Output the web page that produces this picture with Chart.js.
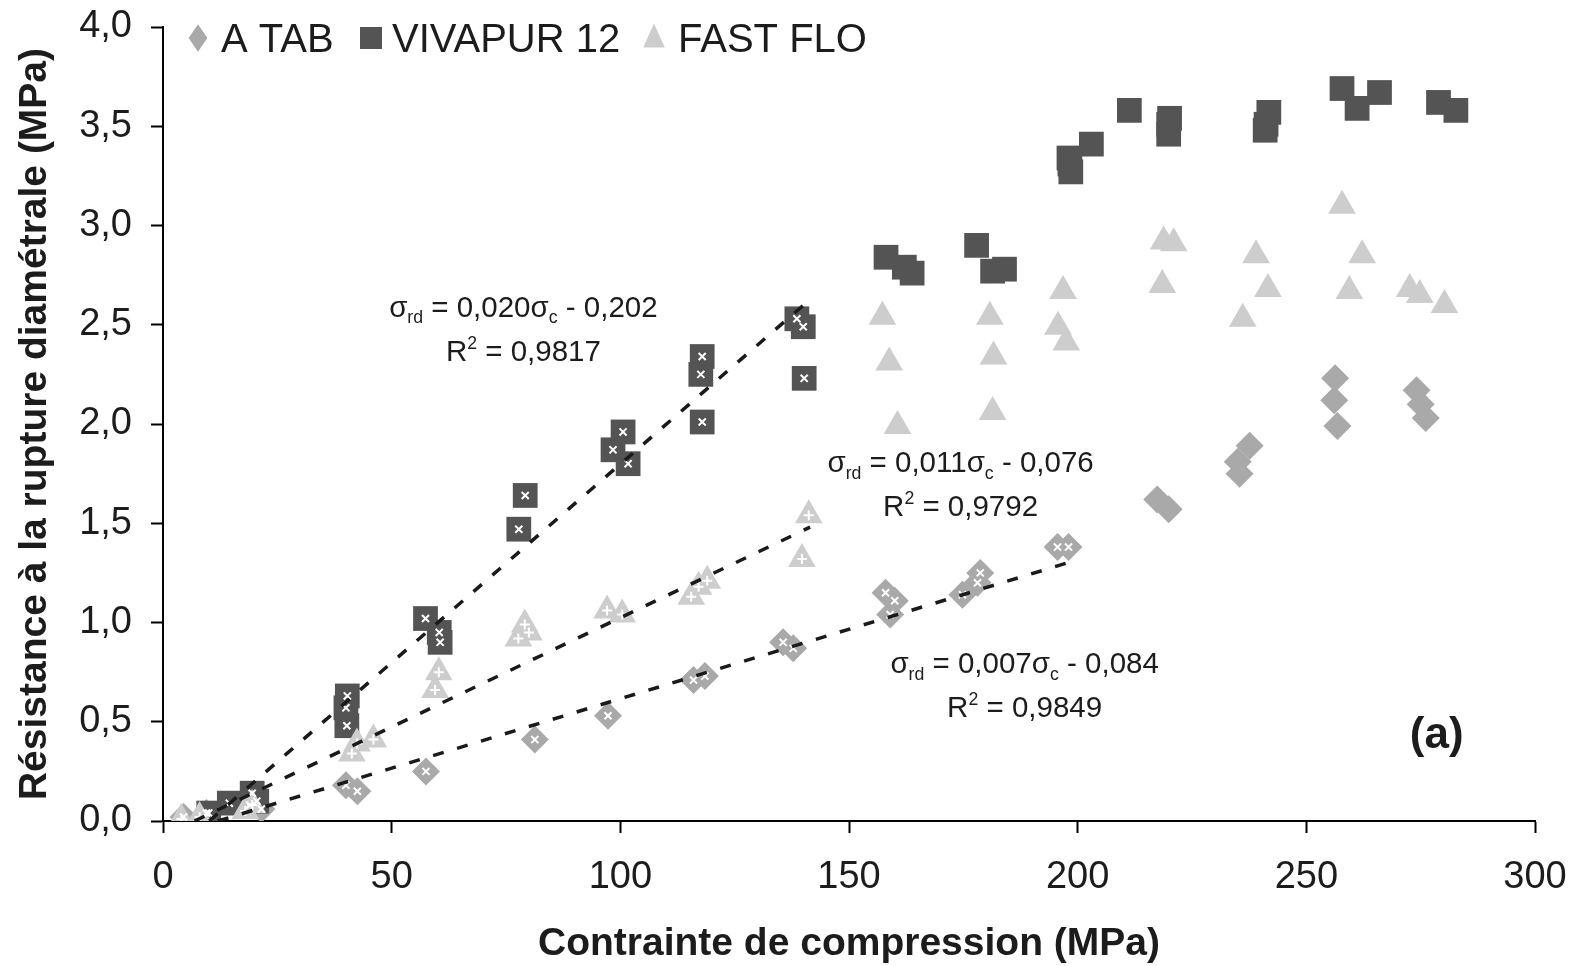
<!DOCTYPE html>
<html>
<head>
<meta charset="utf-8">
<script src="https://cdn.jsdelivr.net/npm/chart.js@4.4.1/dist/chart.umd.min.js"></script>
<style>
  html, body { margin: 0; padding: 0; background: #fff; }
</style>
</head>
<body>
<canvas id="myChart" width="1575" height="966"></canvas>
<script>
// series names, in legend order
const seriesNames = ['A TAB', 'VIVAPUR 12', 'FAST FLO'];

// points used for the linear fits (drawn with a white cross on top)
const aTabFit = [[4.5,0.02],[9.5,0.04],[19,0.08],[21.5,0.06],[40,0.18],[42.5,0.15],[57.5,0.25],
  [81.3,0.41],[97.3,0.53],[116,0.71],[118.5,0.73],[135.6,0.9],[137.8,0.87],[158,1.15],[160,1.11],
  [159,1.04],[174.8,1.14],[178.1,1.2],[178.7,1.25],[195.6,1.38],[198,1.38]];
const vivapurFit = [[10,0.04],[14.5,0.09],[19.5,0.14],[20.5,0.1],[40.3,0.63],[40,0.57],[40.2,0.48],
  [57.4,1.02],[60.4,0.95],[60.6,0.9],[77.8,1.47],[79.2,1.64],[98.4,1.87],[100.6,1.96],[101.7,1.8],
  [117.9,2.34],[117.6,2.25],[117.9,2.01],[138.6,2.53],[140,2.49],[140.2,2.23]];
const fastFloFit = [[4,0.01],[8,0.02],[18,0.05],[19.5,0.08],[41.3,0.34],[42.4,0.39],[46,0.41],
  [59.5,0.66],[60.3,0.75],[77.7,0.92],[79.1,0.99],[80,0.95],[97.1,1.06],[100.4,1.04],[115.5,1.13],
  [117.1,1.18],[119,1.21],[139.7,1.32],[141.2,1.54]];

// points above the fitted range
const aTabRest = [[217.4,1.62],[219.9,1.57],[235,1.81],[237.6,1.89],[235.4,1.75],[256.3,2.23],
  [256.1,2.12],[256.8,1.99],[274.1,2.17],[275,2.1],[276.1,2.03]];
const vivapurRest = [[158.1,2.84],[162.1,2.79],[163.8,2.76],[177.9,2.9],[181.4,2.77],[184,2.78],
  [198.1,3.34],[198.5,3.27],[198.3,3.31],[203,3.41],[211.3,3.58],[219.9,3.51],[219.9,3.46],
  [220.1,3.54],[241.2,3.51],[241.8,3.57],[241,3.48],[257.8,3.69],[261.1,3.59],[266,3.67],
  [278.9,3.62],[282.7,3.58]];
const fastFloRest = [[157.3,2.54],[158.8,2.31],[160.6,1.99],[180.8,2.54],[181.6,2.34],[181.4,2.06],
  [196.8,2.67],[195.7,2.49],[197.5,2.41],[218.8,2.92],[221,2.91],[218.5,2.7],[236.1,2.53],
  [239,2.85],[241.6,2.68],[257.8,3.1],[259.4,2.67],[262.2,2.85],[272.6,2.68],[274.8,2.65],
  [280.2,2.6]];

// linear trend lines  sigma_rd = a * sigma_c + b
const trendSlope = [0.007, 0.020, 0.011];
const trendIntercept = [-0.084, -0.202, -0.076];
const trendFrom = [12, 10.1, 6.9];
const trendTo = [199, 141, 141.5];

// equation labels: slope, intercept, R2 and where they sit (data units)
const eqSlopeText = ['0,007', '0,020', '0,011'];
const eqInterceptText = ['0,084', '0,202', '0,076'];
const eqR2Text = ['0,9849', '0,9817', '0,9792'];
const eqAnchorX = [188.4, 78.8, 174.4];
const eqAnchorY = [0.745, 2.54, 1.757];

const xTickLabels = ['0', '50', '100', '150', '200', '250', '300'];
const yTickLabels = ['0,0', '0,5', '1,0', '1,5', '2,0', '2,5', '3,0', '3,5', '4,0'];

const FONT = '"Liberation Sans", Arial, Helvetica, sans-serif';
const TEXT = '#1c1c1c';

const colors = ['#a9a9a9', '#545454', '#cdcdcd'];
const styles = ['rectRot', 'rect', 'triangle'];
const radii = [14, 17.5, 16];
const crossStyles = ['crossRot', 'crossRot', 'cross'];

function pts(arr) {
    return arr.map(function (p) { return {x: p[0], y: p[1]}; });
}

const fits = [aTabFit, vivapurFit, fastFloFit];
const rests = [aTabRest, vivapurRest, fastFloRest];

var datasets = [];

// trend lines on top of everything
for (var i = 0; i < 3; i++) {
    datasets.push({
        label: 'trend ' + seriesNames[i],
        data: [
            {x: trendFrom[i], y: trendSlope[i] * trendFrom[i] + trendIntercept[i]},
            {x: trendTo[i], y: trendSlope[i] * trendTo[i] + trendIntercept[i]}
        ],
        showLine: true,
        borderColor: '#1a1a1a',
        borderWidth: 3.5,
        borderDash: [11, 14],
        pointRadius: 0,
        fill: false,
        order: 0
    });
}

// white crosses on fitted points
for (var i = 0; i < 3; i++) {
    datasets.push({
        label: 'cross ' + seriesNames[i],
        data: pts(fits[i]),
        pointStyle: crossStyles[i],
        pointRadius: 5,
        pointBorderWidth: 2,
        pointBorderColor: '#ffffff',
        pointBackgroundColor: '#ffffff',
        order: 1
    });
}

// markers, FAST FLO drawn last (on top)
for (var i = 0; i < 3; i++) {
    datasets.push({
        label: seriesNames[i],
        data: pts(fits[i].concat(rests[i])),
        pointStyle: styles[i],
        pointRadius: radii[i],
        pointBackgroundColor: colors[i],
        pointBorderColor: colors[i],
        pointBorderWidth: 0,
        order: 4 - i
    });
}

// text with sub/superscripts: parts = [[text, mode]], mode 0 normal, 1 sub, 2 sup
function drawRich(ctx, parts, cx, baseY, size) {
    var widths = [], total = 0;
    parts.forEach(function (p) {
        var s = p[1] ? size * 0.6 : size;
        ctx.font = s + 'px ' + FONT;
        var w = ctx.measureText(p[0]).width;
        widths.push(w);
        total += w;
    });
    var x = cx - total / 2;
    ctx.textAlign = 'left';
    ctx.textBaseline = 'alphabetic';
    parts.forEach(function (p, k) {
        var s = p[1] ? size * 0.6 : size;
        var dy = p[1] === 1 ? size * 0.22 : (p[1] === 2 ? -size * 0.4 : 0);
        ctx.font = s + 'px ' + FONT;
        ctx.fillText(p[0], x, baseY + dy);
        x += widths[k];
    });
}

function legendMarker(ctx, style, x, y, r, color) {
    ctx.fillStyle = color;
    ctx.beginPath();
    if (style === 'rect') {
        ctx.rect(x - r, y - r, 2 * r, 2 * r);
    } else if (style === 'rectRot') {
        ctx.moveTo(x, y - r * 1.25);
        ctx.lineTo(x + r * 0.85, y);
        ctx.lineTo(x, y + r * 1.25);
        ctx.lineTo(x - r * 0.85, y);
    } else {
        ctx.moveTo(x, y - r * 1.2);
        ctx.lineTo(x + r * 0.9, y + r * 0.8);
        ctx.lineTo(x - r * 0.9, y + r * 0.8);
    }
    ctx.closePath();
    ctx.fill();
}

const annotationPlugin = {
    id: 'annotations',
    afterDraw: function (chart) {
        var ctx = chart.ctx;
        var xs = chart.scales.x, ys = chart.scales.y;
        ctx.save();
        ctx.fillStyle = TEXT;
        for (var i = 0; i < 3; i++) {
            var cx = xs.getPixelForValue(eqAnchorX[i]);
            var by = ys.getPixelForValue(eqAnchorY[i]);
            drawRich(ctx, [['σ', 0], ['rd', 1], [' = ' + eqSlopeText[i], 0], ['σ', 0], ['c', 1],
                [' - ' + eqInterceptText[i], 0]], cx, by, 29.5);
            drawRich(ctx, [['R', 0], ['2', 2], [' = ' + eqR2Text[i], 0]], cx, by + 44, 29.5);
        }
        // panel letter
        ctx.font = 'bold 44px ' + FONT;
        ctx.textAlign = 'center';
        ctx.textBaseline = 'alphabetic';
        ctx.fillText('(a)', xs.getPixelForValue(278.5), ys.getPixelForValue(0.37));

        // legend
        var legX = [198, 371, 654];
        var legTextX = [221, 392, 678];
        var legR = [11, 11, 12];
        for (var i = 0; i < 3; i++) {
            legendMarker(ctx, styles[i], legX[i], 38, legR[i], colors[i]);
            ctx.fillStyle = TEXT;
            ctx.font = '40px ' + FONT;
            ctx.textAlign = 'left';
            ctx.fillText(seriesNames[i], legTextX[i], 52);
        }
        ctx.restore();
    }
};

const config = {
    type: 'scatter',
    data: {datasets: datasets},
    options: {
        responsive: false,
        animation: false,
        events: [],
        layout: {padding: {left: 0, top: 27, right: 40, bottom: 0}},
        plugins: {
            legend: {display: false},
            tooltip: {enabled: false}
        },
        scales: {
            x: {
                type: 'linear',
                min: 0,
                max: 300,
                ticks: {
                    stepSize: 50,
                    color: TEXT,
                    font: {family: FONT, size: 38},
                    padding: 22,
                    callback: function (v) { return xTickLabels[Math.round(v / 50)]; }
                },
                grid: {drawOnChartArea: false, drawTicks: true, tickLength: 12, tickColor: '#000', tickWidth: 2},
                border: {color: '#000', width: 2},
                title: {
                    display: true,
                    text: 'Contrainte de compression (MPa)',
                    color: TEXT,
                    font: {family: FONT, size: 39, weight: 'bold', lineHeight: 1.1},
                    padding: {top: 0, bottom: 0}
                },
                afterFit: function (s) {
                    s.height = 145;
                    s.paddingLeft = 0;
                    s.paddingRight = 0;
                }
            },
            y: {
                type: 'linear',
                min: 0,
                max: 4,
                ticks: {
                    stepSize: 0.5,
                    color: TEXT,
                    font: {family: FONT, size: 38},
                    padding: 19,
                    callback: function (v) { return yTickLabels[Math.round(v / 0.5)]; }
                },
                grid: {drawOnChartArea: false, drawTicks: true, tickLength: 12, tickColor: '#000', tickWidth: 2},
                border: {color: '#000', width: 2},
                title: {
                    display: true,
                    text: 'Résistance à la rupture diamétrale (MPa)',
                    color: TEXT,
                    font: {family: FONT, size: 39, weight: 'bold', lineHeight: 1.2},
                    padding: {top: 12, bottom: 0}
                },
                afterFit: function (s) {
                    s.width = 163;
                    s.paddingTop = 0;
                    s.paddingBottom = 0;
                }
            }
        }
    },
    plugins: [annotationPlugin]
};

var myChart = new Chart(document.getElementById('myChart'), config);
</script>
</body>
</html>
